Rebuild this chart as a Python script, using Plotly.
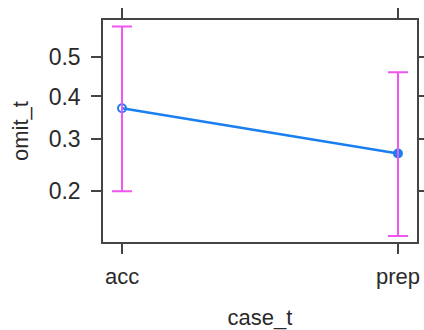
import numpy as np
import plotly.graph_objects as go

categories = ["acc", "prep"]
fit = [0.371, 0.270]
upper = [0.579, 0.461]
lower = [0.200, 0.136]
y_ticks = [0.2, 0.3, 0.4, 0.5]
y_range = [0.129, 0.595]

def logit(p):
    p = np.asarray(p, dtype=float)
    return np.log(p / (1 - p))

lf = logit(fit)
lu = logit(upper)
ll = logit(lower)

FONT = "Liberation Sans, Arial"

fig = go.Figure()
fig.add_trace(go.Scatter(
    x=[0, 1], y=lf, mode="lines+markers",
    line=dict(color="#1a7ff0", width=2.6),
    marker=dict(symbol=["circle-open", "circle"], size=8, color="#1a7ff0",
                line=dict(color="#1a7ff0", width=2)),
    showlegend=False, hoverinfo="skip",
))
fig.add_trace(go.Scatter(
    x=[0, 1], y=lf, mode="markers",
    marker=dict(size=1, opacity=0),
    error_y=dict(type="data", symmetric=False, array=lu - lf, arrayminus=lf - ll,
                 color="#f055f0", thickness=2, width=10),
    showlegend=False, hoverinfo="skip",
))

axis_common = dict(
    showline=True, linecolor="#444", linewidth=1.5, mirror="allticks",
    ticks="outside", ticklen=10, tickwidth=1.5, tickcolor="#444",
    showgrid=False, zeroline=False, automargin=False,
    ticklabeloverflow="allow",
)

fig.update_layout(
    width=424, height=330,
    margin=dict(l=103, r=7, t=20, b=88),
    paper_bgcolor="white", plot_bgcolor="white",
    xaxis=dict(
        **axis_common,
        tickfont=dict(family=FONT, size=22, color="#2a2a2a"),
        tickmode="array", tickvals=[0, 1], ticktext=categories,
        range=[-0.069, 1.069],
        ticklabelstandoff=4,
        title=dict(text="case_t", standoff=22,
                   font=dict(family=FONT, size=22, color="#2a2a2a")),
    ),
    yaxis=dict(
        **axis_common,
        tickfont=dict(family=FONT, size=23, color="#2a2a2a"),
        tickmode="array", tickvals=logit(y_ticks).tolist(),
        ticktext=[f"{v:.1f}" for v in y_ticks],
        range=logit(y_range).tolist(),
        ticklabelstandoff=6,
        title=dict(text="omit_t", standoff=14,
                   font=dict(family=FONT, size=22, color="#2a2a2a")),
    ),
)

fig.write_html(
    "out.html",
    config={"displayModeBar": False},
    post_script="document.body.style.margin='0';document.body.style.overflow='hidden';",
)
